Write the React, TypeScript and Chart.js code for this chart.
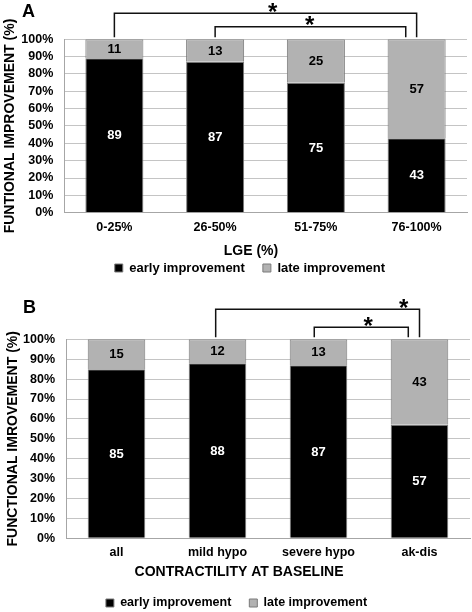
import React, { useEffect, useRef } from 'react';
import { Chart, registerables } from 'chart.js';

Chart.register(...registerables);

const FONT = '"Liberation Sans", Arial, Helvetica, sans-serif';
Chart.defaults.font.family = FONT;

// ---------- data ----------
const seriesNames = ['early improvement', 'late improvement'];

const categoriesA = ['0-25%', '26-50%', '51-75%', '76-100%'];
const earlyA = [89, 87, 75, 43];
const lateA = [11, 13, 25, 57];

const categoriesB = ['all', 'mild hypo', 'severe hypo', 'ak-dis'];
const earlyB = [85, 88, 87, 57];
const lateB = [15, 12, 13, 43];

// significance brackets (category index from/to)
const bracketFromA = [0, 1];
const bracketToA = [3, 2.892];
const bracketFromB = [0.982, 1.958];
const bracketToB = [3, 2.889];
const bracketLabel = ['*', '*'];

// ---------- styling / layout ----------
const COLORS = { early: '#000000', late: '#b2b2b2', border: '#7a7a7a', grid: '#c4c4c4', axis: '#a6a6a6', text: '#000000' };

interface Layout {
  letter: string; letterX: number; letterY: number;
  padTop: number; padRight: number; yWidth: number; yTitlePad: number; yTickPad: number;
  barPct: number; xHeight: number; xTickPad: number; tickFont: number;
  legendFont: number; legendMaxH: number; legendDx: number; legendDy: number; titleDx: number;
  rises: number[]; starPos: number[];
}

const layoutA: Layout = {
  letter: 'A', letterX: 22, letterY: 16.7,
  padTop: 39.3, padRight: 5, yWidth: 64, yTitlePad: 1.6, yTickPad: 10.7,
  barPct: 0.576, xHeight: 30.4, xTickPad: 7, tickFont: 12.5,
  legendFont: 13, legendMaxH: 32.1, legendDx: 16.4, legendDy: -16.4, titleDx: 17.5,
  rises: [26, 12.6], starPos: [0.524, 0.496],
};

const layoutB: Layout = {
  letter: 'B', letterX: 23, letterY: 23,
  padTop: 49.3, padRight: 2, yWidth: 66, yTitlePad: 4.6, yTickPad: 11,
  barPct: 0.57, xHeight: 25, xTickPad: 7.2, tickFont: 12.5,
  legendFont: 12.5, legendMaxH: 31.9, legendDx: 1.5, legendDy: -1.35, titleDx: 4,
  rises: [30, 12], starPos: [0.922, 0.574],
};

const panelPlugin = {
  id: 'panel',
  afterLayout(chart: any, _args: any, opts: any) {
    const lg = chart.legend;
    if (lg) {
      lg.left += opts.legendDx; lg.right += opts.legendDx;
      lg.top += opts.legendDy; lg.bottom += opts.legendDy;
    }
    const tb = chart.titleBlock;
    if (tb) { tb.left += opts.titleDx; tb.right += opts.titleDx; }
  },
  afterDatasetsDraw(chart: any) {
    const ctx = chart.ctx;
    ctx.save();
    ctx.font = `bold 13px ${FONT}`;
    ctx.textAlign = 'center';
    ctx.textBaseline = 'middle';
    chart.data.datasets.forEach((ds: any, di: number) => {
      const meta = chart.getDatasetMeta(di);
      meta.data.forEach((bar: any, i: number) => {
        const v = ds.data[i];
        const { x, y, base } = bar.getProps(['x', 'y', 'base'], true);
        ctx.fillStyle = di === 0 ? '#ffffff' : '#000000';
        ctx.fillText(String(v), x, (y + base) / 2 + 0.5);
      });
    });
    ctx.restore();
  },
  afterDraw(chart: any, _args: any, opts: any) {
    const ctx = chart.ctx;
    const xs = chart.scales.x;
    const top = chart.chartArea.top;
    ctx.save();
    ctx.strokeStyle = '#111111';
    ctx.lineWidth = 1.5;
    opts.from.forEach((f: number, i: number) => {
      const x1 = xs.getPixelForValue(f);
      const x2 = xs.getPixelForValue(opts.to[i]);
      const yTop = top - opts.rises[i];
      const yLeg = top - 2;
      ctx.beginPath();
      ctx.moveTo(x1, yLeg);
      ctx.lineTo(x1, yTop);
      ctx.lineTo(x2, yTop);
      ctx.lineTo(x2, yLeg);
      ctx.stroke();
      ctx.fillStyle = '#000';
      ctx.font = `bold 24px ${FONT}`;
      ctx.textAlign = 'center';
      ctx.textBaseline = 'alphabetic';
      ctx.fillText(opts.labels[i], x1 + (x2 - x1) * opts.starPos[i], yTop - 6 + 12.7);
    });
    ctx.fillStyle = '#000';
    ctx.font = `bold 18px ${FONT}`;
    ctx.textAlign = 'left';
    ctx.textBaseline = 'alphabetic';
    ctx.fillText(opts.letter, opts.letterX, opts.letterY);
    ctx.restore();
  },
};

function makeConfig(
  categories: string[], early: number[], late: number[], yTitle: string, xTitle: string,
  from: number[], to: number[], L: Layout,
): any {
  const ds = (label: string, data: number[], color: string) => ({
    label, data, backgroundColor: color, borderColor: COLORS.border, borderWidth: 1,
    barPercentage: L.barPct, categoryPercentage: 1,
  });
  return {
    type: 'bar',
    data: {
      labels: categories,
      datasets: [ds(seriesNames[0], early, COLORS.early), ds(seriesNames[1], late, COLORS.late)],
    },
    options: {
      responsive: false,
      animation: false,
      devicePixelRatio: 1,
      layout: { padding: { top: L.padTop, right: L.padRight, bottom: 0, left: 0 } },
      scales: {
        x: {
          stacked: true,
          grid: { display: false, drawTicks: false },
          border: { display: true, color: COLORS.axis },
          ticks: { color: COLORS.text, padding: L.xTickPad, autoSkip: false, maxRotation: 0, font: { size: L.tickFont, weight: 'bold' } },
          afterFit: (s: any) => { s.height = L.xHeight; },
        },
        y: {
          stacked: true, min: 0, max: 100,
          grid: { color: COLORS.grid, drawTicks: false },
          border: { color: COLORS.axis },
          ticks: {
            stepSize: 10, autoSkip: false, color: COLORS.text, padding: L.yTickPad,
            font: { size: L.tickFont, weight: 'bold', lineHeight: 1 },
            callback: (v: any) => `${v}%`,
          },
          title: {
            display: true, text: yTitle, color: COLORS.text,
            font: { size: 14, weight: 'bold' }, padding: { top: L.yTitlePad, bottom: 0 },
          },
          afterFit: (s: any) => { s.width = L.yWidth; },
        },
      },
      plugins: {
        tooltip: { enabled: false },
        title: {
          display: true, text: xTitle, position: 'bottom', weight: 500, color: COLORS.text,
          font: { size: 14, weight: 'bold' }, padding: 0,
        },
        legend: {
          position: 'bottom', maxHeight: L.legendMaxH,
          labels: {
            color: COLORS.text, boxWidth: 8, boxHeight: 8, padding: 18,
            font: { size: L.legendFont, weight: 'bold' },
          },
        },
        panel: {
          from, to, labels: bracketLabel, rises: L.rises, starPos: L.starPos,
          letter: L.letter, letterX: L.letterX, letterY: L.letterY,
          legendDx: L.legendDx, legendDy: L.legendDy, titleDx: L.titleDx,
        },
      },
    },
    plugins: [panelPlugin],
  };
}

export default function App() {
  const refA = useRef<HTMLCanvasElement>(null);
  const refB = useRef<HTMLCanvasElement>(null);
  useEffect(() => {
    const a = new Chart(refA.current as HTMLCanvasElement,
      makeConfig(categoriesA, earlyA, lateA, 'FUNTIONAL IMPROVEMENT (%)', 'LGE (%)', bracketFromA, bracketToA, layoutA));
    const b = new Chart(refB.current as HTMLCanvasElement,
      makeConfig(categoriesB, earlyB, lateB, 'FUNCTIONAL IMROVEMENT (%)', 'CONTRACTILITY AT BASELINE', bracketFromB, bracketToB, layoutB));
    return () => { a.destroy(); b.destroy(); };
  }, []);
  return (
    <div style={{ position: 'absolute', left: 0, top: 0, width: 472, height: 612, background: '#ffffff', overflow: 'hidden' }}>
      <canvas ref={refA} width={472} height={292} style={{ position: 'absolute', left: 0, top: 0 }} />
      <canvas ref={refB} width={472} height={322} style={{ position: 'absolute', left: 0, top: 290 }} />
    </div>
  );
}
